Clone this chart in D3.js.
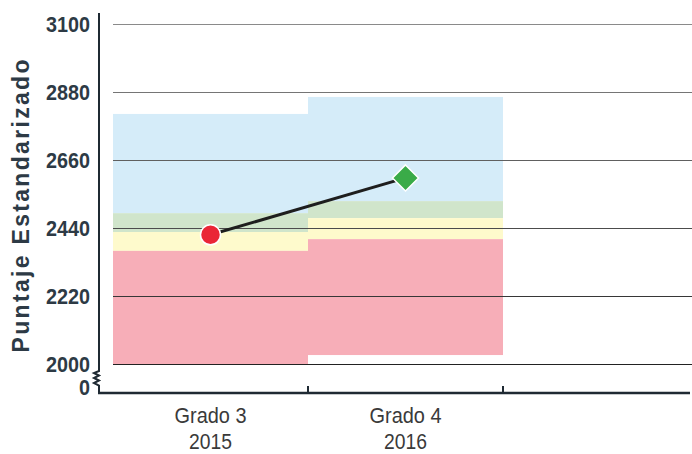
<!DOCTYPE html>
<html>
<head>
<meta charset="utf-8">
<script src="https://cdn.jsdelivr.net/npm/d3@7"></script>
<style>
  body { margin: 0; background: #fff; }
  svg { display: block; }
  .tick-label { font-family: "Liberation Sans", Arial, sans-serif; font-weight: 700; font-size: 22px; fill: #2d3a45; }
  .cat-label { font-family: "Liberation Sans", Arial, sans-serif; font-size: 22px; fill: #3a3a3a; }
  .y-title { font-family: "Liberation Sans", Arial, sans-serif; font-weight: 700; font-size: 23px; fill: #2d3a45; }
</style>
</head>
<body>
<script>
// data
const grades = ['Grado 3', 'Grado 4'];
const years = ['2015', '2016'];
const yTicks = [2000, 2220, 2440, 2660, 2880, 3100];

// band edges per grade (top of blue, green, yellow, red, bottom of red)
const blueTop = [2809, 2864];
const greenTop = [2488, 2527];
const yellowTop = [2427, 2472];
const redTop = [2366, 2404];
const redBottom = [2000, 2029];

const scores = [2418, 2602];

const W = 692, H = 454;

const svg = d3.select('body').append('svg')
  .attr('width', W)
  .attr('height', H);

const x = d3.scaleBand()
  .domain(grades.concat(['']))
  .range([113, 698])
  .padding(0);

const y = d3.scaleLinear()
  .domain([2000, 3100])
  .range([364, 24]);

const axisX = 99, axisY = 393;

// coloured bands
const bandColors = ['#d5ecf9', '#d0e5cb', '#fefacc', '#f7aeb8'];
const edges = [blueTop, greenTop, yellowTop, redTop, redBottom];

grades.forEach(function(g, i) {
  for (let k = 0; k < 4; k++) {
    svg.append('rect')
      .attr('x', x(g))
      .attr('width', x.bandwidth())
      .attr('y', y(edges[k][i]))
      .attr('height', y(edges[k + 1][i]) - y(edges[k][i]))
      .attr('fill', bandColors[k]);
  }
});

// gridlines
const gridColor = d3.scaleLinear().domain([2000, 3100]).range(['#222', '#8a8a8a']);
svg.append('g')
  .selectAll('line')
  .data(yTicks)
  .enter()
  .append('line')
  .attr('x1', 113)
  .attr('x2', W)
  .attr('y1', function(d) { return Math.round(y(d)) + 0.5; })
  .attr('y2', function(d) { return Math.round(y(d)) + 0.5; })
  .attr('stroke', function(d) { return gridColor(d); })
  .attr('stroke-width', 1.2);

// y tick labels (condensed to look like the narrow original font)
svg.append('g')
  .selectAll('text')
  .data(yTicks)
  .enter()
  .append('text')
  .attr('class', 'tick-label')
  .attr('x', 90)
  .attr('y', function(d) { return y(d); })
  .attr('dy', '0.36em')
  .attr('text-anchor', 'end')
  .attr('textLength', 44)
  .attr('lengthAdjust', 'spacingAndGlyphs')
  .text(function(d) { return d; });

svg.append('text')
  .attr('class', 'tick-label')
  .attr('x', 90)
  .attr('y', 387)
  .attr('dy', '0.36em')
  .attr('text-anchor', 'end')
  .attr('textLength', 11)
  .attr('lengthAdjust', 'spacingAndGlyphs')
  .text('0');

// y axis with break
const axisColor = '#1f2a33';
svg.append('path')
  .attr('d', 'M' + axisX + ',13 L' + axisX + ',371 L94,373 L' + axisX + ',375.5 L94,378 L' + axisX + ',380.5 L94,383 L' + axisX + ',385.5 L' + axisX + ',' + axisY)
  .attr('fill', 'none')
  .attr('stroke', axisColor)
  .attr('stroke-width', 2)
  .attr('stroke-linejoin', 'miter');

// x axis
svg.append('line')
  .attr('x1', axisX - 1)
  .attr('x2', 690)
  .attr('y1', axisY)
  .attr('y2', axisY)
  .attr('stroke', axisColor)
  .attr('stroke-width', 2.5);

// ticks between categories
svg.append('g')
  .selectAll('line')
  .data(grades)
  .enter()
  .append('line')
  .attr('x1', function(d) { return x(d) + x.bandwidth(); })
  .attr('x2', function(d) { return x(d) + x.bandwidth(); })
  .attr('y1', axisY - 7)
  .attr('y2', axisY + 1)
  .attr('stroke', axisColor)
  .attr('stroke-width', 2);

// category labels
grades.forEach(function(g, i) {
  const cx = x(g) + x.bandwidth() / 2;
  svg.append('text')
    .attr('class', 'cat-label')
    .attr('x', cx)
    .attr('y', 423)
    .attr('text-anchor', 'middle')
    .attr('textLength', 72)
    .attr('lengthAdjust', 'spacingAndGlyphs')
    .text(g);
  svg.append('text')
    .attr('class', 'cat-label')
    .attr('x', cx)
    .attr('y', 449)
    .attr('text-anchor', 'middle')
    .attr('textLength', 43)
    .attr('lengthAdjust', 'spacingAndGlyphs')
    .text(years[i]);
});

// y title
svg.append('text')
  .attr('class', 'y-title')
  .attr('transform', 'translate(29,206)rotate(-90)')
  .attr('text-anchor', 'middle')
  .attr('textLength', 293)
  .attr('lengthAdjust', 'spacing')
  .text('Puntaje Estandarizado');

// score line
const pts = grades.map(function(g, i) {
  return [x(g) + x.bandwidth() / 2, y(scores[i])];
});

svg.append('path')
  .attr('d', d3.line()(pts))
  .attr('fill', 'none')
  .attr('stroke', '#1e1e1e')
  .attr('stroke-width', 3);

// markers
svg.append('circle')
  .attr('cx', pts[0][0])
  .attr('cy', pts[0][1])
  .attr('r', 10)
  .attr('fill', '#ea2636')
  .attr('stroke', '#fff')
  .attr('stroke-width', 1.5);

svg.append('path')
  .attr('transform', 'translate(' + pts[1][0] + ',' + pts[1][1] + ')')
  .attr('d', 'M0,-13 L13,0 L0,13 L-13,0 Z')
  .attr('fill', '#3aab48')
  .attr('stroke', '#fff')
  .attr('stroke-width', 1.5);
</script>
</body>
</html>
